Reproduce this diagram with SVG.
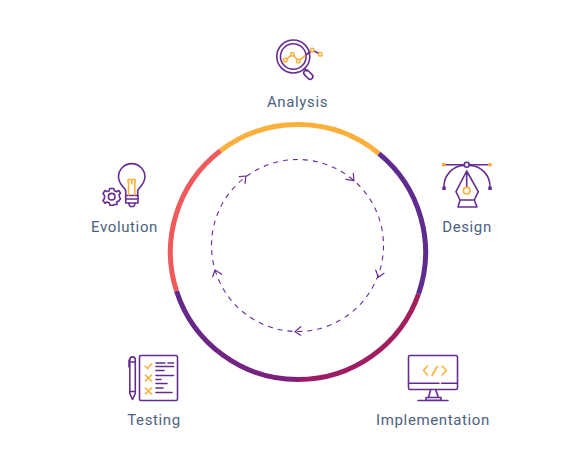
<svg xmlns="http://www.w3.org/2000/svg" width="586" height="462" viewBox="0 0 586 462">
<defs>
<linearGradient id="gr" gradientUnits="userSpaceOnUse" x1="418" y1="295" x2="298" y2="380"><stop offset="0" stop-color="#a51e5c"/><stop offset="1" stop-color="#9a1c68"/></linearGradient>
<linearGradient id="gl" gradientUnits="userSpaceOnUse" x1="298" y1="380" x2="176" y2="292"><stop offset="0" stop-color="#7f1f7a"/><stop offset="1" stop-color="#5f2a8c"/></linearGradient>
</defs>
<style>
text{font-family:Roboto,"Liberation Sans",sans-serif;font-size:15px;fill:#4c6280;text-anchor:middle;letter-spacing:.62px}
.p{fill:none;stroke:#662d91;stroke-width:1.6;stroke-linecap:round;stroke-linejoin:round}
.o{fill:none;stroke:#fbb03b;stroke-width:1.6;stroke-linecap:round;stroke-linejoin:round}
.od{fill:#fff;stroke:#fbb03b;stroke-width:1.5}
.a{fill:none;stroke:#662d91;stroke-width:1.2;stroke-linecap:round;stroke-linejoin:round}
.r{fill:none;stroke-width:5}
</style>
<g id="connectors">
<path class="r" stroke="#fbb03b" d="M220.400 150.800A127.500 127.500 0 0 1 379 153.600"/>
<path class="r" stroke="#5f2b8f" d="M379 153.600A127.500 127.500 0 0 1 418.500 294"/>
<path class="r" stroke="url(#gr)" d="M418.500 294A127.500 127.500 0 0 1 298 379.500"/>
<path class="r" stroke="url(#gl)" d="M298 379.500A127.500 127.500 0 0 1 176.500 291"/>
<path class="r" stroke="#f15a5a" d="M176.500 291A127.500 127.500 0 0 1 220.400 150.800"/>
<circle cx="297.500" cy="245.500" r="86" fill="none" stroke="#662d91" stroke-width="1.1" stroke-dasharray="5 5"/>
<path class="a" d="M239.300 176.700L246 176L245 183.300"/>
<path class="a" d="M353.300 173.300L354 180.700L346 179.300"/>
<path class="a" d="M375.700 270L378.300 277.300L384 273.300"/>
<path class="a" d="M300.700 326.700L295 331.700L300.700 335.300"/>
<path class="a" d="M212.700 276.700L215 270L221.700 274.300"/>
</g>
<g id="analysis">
<circle class="p" cx="293.300" cy="56.500" r="16.500"/>
<circle class="p" cx="293.300" cy="56.500" r="12.800"/>
<path class="p" d="M304.500 68.500L307 71"/>
<rect class="p" x="303" y="72" width="10.500" height="5.500" rx="2.700" transform="rotate(45 308.300 74.800)"/>
<path class="o" d="M285.300 60L292.300 54.300L298.300 61L306 55"/>
<path class="p" d="M306 55L312.300 50L320.300 54.300"/>
<circle class="od" cx="285.300" cy="60" r="1.800"/><circle class="od" cx="292.300" cy="54.300" r="1.800"/><circle class="od" cx="298.300" cy="61" r="1.800"/><circle class="od" cx="312.300" cy="50" r="1.800"/><circle class="od" cx="320.300" cy="54.300" r="1.800"/>
<text x="297.500" y="107">Analysis</text>
</g>
<g id="design">
<path class="p" d="M445 164.700H464.200M469.200 164.700H488.500"/>
<path class="p" d="M444 186.500C444 175 453 166 463.500 165.500M490 186.500C490 175 481 166 470 165.500"/>
<circle class="p" cx="466.700" cy="164.700" r="2.500"/>
<circle cx="443.700" cy="164.700" r="2" fill="#fbb03b"/><circle cx="490" cy="164.700" r="2" fill="#fbb03b"/>
<rect x="442.300" y="186.500" width="3.500" height="3.500" fill="#662d91"/><rect x="488.300" y="186.500" width="3.500" height="3.500" fill="#662d91"/>
<path class="p" d="M466.700 171L456 191.700L460 200H474.300L478.300 191.700ZM466.700 171V187.300M460 200L458 207H477L474.300 200"/>
<circle class="o" cx="466.700" cy="190.700" r="3.300"/>
<text x="467" y="232">Design</text>
</g>
<g id="implementation">
<rect class="p" x="408.500" y="355.500" width="49" height="34" rx="1.500"/>
<path class="p" d="M408.500 383.300H439M441.500 383.300H457.500"/>
<path class="p" d="M430.700 389.500L428.500 397.500M435.700 389.500L438.300 397.500M426 397.500H441V400.300H426ZM418 400.500H448"/>
<path class="o" d="M427.500 366L423.500 370.500L427.500 375M432 375.500L437.300 366.500M442 366L446.500 370.500L442 375"/>
<text x="433" y="425">Implementation</text>
</g>
<g id="testing">
<rect class="p" x="139.500" y="355.500" width="38" height="45" rx="1.500"/>
<path class="p" d="M129.800 360C129.800 355.800 135.300 355.800 135.300 360V393.500L132.500 399.500L129.800 393.500ZM129.800 362H135.300M129.800 391.500H135.300M129 360V367"/>
<path class="o" d="M145 366L147.500 368.500L151.500 364M145.500 375L151.500 381M151.500 375L145.500 381M145.500 388L151.500 394M151.500 388L145.500 394"/>
<path class="p" stroke-linecap="butt" d="M156 363H165M168 363H173.500M156 366.500H173.500M156 370.500H164M156 375.500H173.500M156 379.500H161M156 383.500H167M156 388H163M156 392.500H172"/>
<text x="154" y="425">Testing</text>
</g>
<g id="evolution">
<path class="p" d="M125.700 190.500C124.500 187 118.500 184.500 118.500 176.800A13.200 13.200 0 0 1 144.900 176.800C144.900 184.500 138.900 187 137.700 190.500V195.500H125.700Z"/>
<path class="o" d="M128.500 195V182.500M134.800 195V182.500M128.500 182.500C126 179 131.700 178 131.700 181.500V184M134.800 182.500C137.300 179 131.700 178 131.700 181.500"/>
<path class="p" d="M125.700 195.500V203H138V195.500M125.700 199H138M128.500 203L130 206.500H133.700L135.500 203"/>
<path class="p" d="M109.800 188.500H113.700L114.400 190.700L116.700 191.700L118.800 190.500L120.500 193L119 195L119.700 197.500L120.500 198.800L119 200.700L116.700 202L117 204.500H114.500L113.200 205.300H110L109.300 203L107 202L105 203.200L103 200.500L104.500 198.500V195.500L103 193.500L105 190.500L107 191.600L109.200 190.700Z"/>
<circle class="p" cx="111.700" cy="196.700" r="3.300"/>
<text x="124.500" y="232">Evolution</text>
</g>
</svg>
